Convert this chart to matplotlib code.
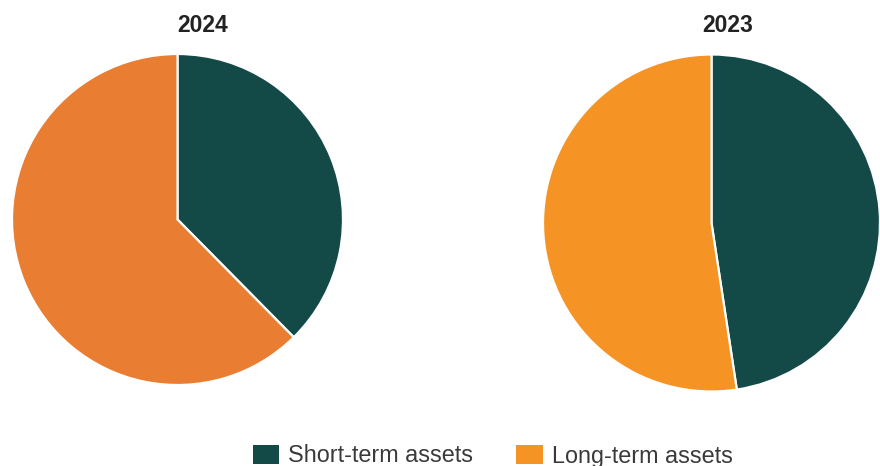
#!/usr/bin/env python3
# -*- coding: utf-8 -*-

import matplotlib
matplotlib.use("Agg")
import matplotlib.pyplot as plt

# DATA #######################################################################

years = ["2024", "2023"]
categories = ["Short-term assets", "Long-term assets"]
shares_2024 = [37.6, 62.4]   # percent of total assets
shares_2023 = [47.6, 52.4]

TEAL = "#134a48"
ORANGE_2024 = "#e97d32"
ORANGE_2023 = "#f59424"

plt.rcParams['font.family'] = ['Liberation Sans', 'DejaVu Sans']

W, H = 880, 466
fig = plt.figure(figsize=(W / 100, H / 100), dpi=100)


def px_axes(cx, cy, r):
    """Square axes for a pie centred at (cx, cy) px from the top left."""
    return fig.add_axes([(cx - r) / W, (H - cy - r) / H, 2 * r / W, 2 * r / H])


def draw_pie(ax, values, colors):
    wedges, _ = ax.pie(values,
                       colors=colors,
                       startangle=90,
                       counterclock=False,
                       radius=1.0,
                       wedgeprops=dict(edgecolor="white", linewidth=1.6))
    ax.set_xlim(-1, 1)
    ax.set_ylim(-1, 1)
    ax.set_aspect("equal")
    ax.axis("off")
    return wedges


ax_left = px_axes(177.5, 219.5, 165.5)
ax_right = px_axes(711.5, 223.0, 168.5)

draw_pie(ax_left, shares_2024, [TEAL, ORANGE_2024])
wedges = draw_pie(ax_right, shares_2023, [TEAL, ORANGE_2023])

fig.text(203 / W, 1 - 26 / H, years[0], ha="center", va="center",
         fontsize=16.5, fontweight="bold", color="#222222")
fig.text(728 / W, 1 - 26 / H, years[1], ha="center", va="center",
         fontsize=16.5, fontweight="bold", color="#222222")

leg = fig.legend(wedges, categories,
                 loc="center left",
                 bbox_to_anchor=(253 / W, 10 / H),
                 ncol=2,
                 frameon=False,
                 fontsize=16.8,
                 borderpad=0,
                 borderaxespad=0,
                 handlelength=1.12,
                 handleheight=0.9,
                 handletextpad=0.39,
                 columnspacing=1.85)
for text in leg.get_texts():
    text.set_color("#3a3a3a")
for handle in leg.legend_handles:
    handle.set_edgecolor("none")

fig.savefig("out.png", dpi=100)
